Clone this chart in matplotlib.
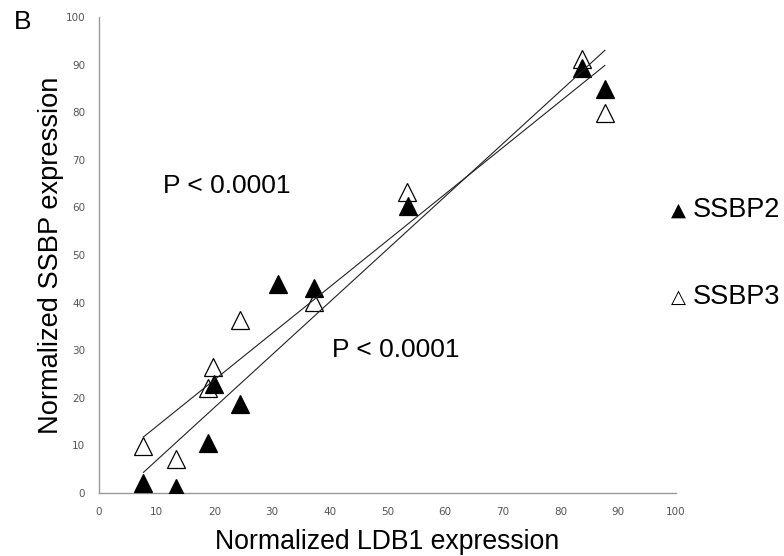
import numpy as np
import matplotlib
matplotlib.use("Agg")
import matplotlib.pyplot as plt

# Data
ssbp2_x = [7.7, 13.3, 18.9, 20.0, 24.5, 31.0, 37.3, 53.6, 83.7, 87.7]
ssbp2_y = [2.0, 1.0, 10.5, 23.0, 18.7, 44.0, 43.0, 60.2, 89.3, 84.9]
ssbp3_x = [7.7, 13.3, 18.9, 19.8, 24.4, 37.3, 53.4, 83.7, 87.7]
ssbp3_y = [9.9, 7.1, 22.0, 26.5, 36.3, 40.1, 63.3, 91.1, 79.8]
ticks = [0, 10, 20, 30, 40, 50, 60, 70, 80, 90, 100]

fig = plt.figure(figsize=(7.84, 5.56), dpi=100)
ax = fig.add_axes([0.1263, 0.1133, 0.7357, 0.8561])

sans = ["Liberation Sans", "DejaVu Sans"]

# trend lines (least squares)
for xs, ys in ((ssbp2_x, ssbp2_y), (ssbp3_x, ssbp3_y)):
    k, b = np.polyfit(xs, ys, 1)
    xx = np.array([min(xs), max(xs)])
    ax.plot(xx, k * xx + b, color="#222222", lw=0.8, zorder=4)

ax.plot(ssbp3_x, ssbp3_y, linestyle="none", marker="^", markersize=13,
        markerfacecolor="white", markeredgecolor="black", markeredgewidth=0.9, zorder=2)
ax.plot(ssbp2_x, ssbp2_y, linestyle="none", marker="^", markersize=13,
        markerfacecolor="black", markeredgecolor="black", markeredgewidth=0.9, zorder=3)

ax.set_xlim(0, 100)
ax.set_ylim(0, 100)
ax.set_xticks(ticks)
ax.set_yticks(ticks)
ax.tick_params(length=0, labelsize=7.5, labelcolor="#555555", pad=10)
for s in ("top", "right"):
    ax.spines[s].set_visible(False)
for s in ("left", "bottom"):
    ax.spines[s].set_color("#999999")
    ax.spines[s].set_linewidth(1.0)

ax.set_xlabel("Normalized LDB1 expression", fontsize=19.2, family=sans, labelpad=9)
ax.set_ylabel("Normalized SSBP expression", fontsize=19.6, family=sans, labelpad=1)

ax.text(11.1, 64.5, "P < 0.0001", fontsize=19, family=sans, va="center", ha="left")
ax.text(40.4, 30.0, "P < 0.0001", fontsize=19, family=sans, va="center", ha="left")

# legend-like labels on right
fig.text(671 / 784, 1 - 210 / 556, "▲", fontsize=14, family="DejaVu Sans", va="center", ha="left")
fig.text(693 / 784, 1 - 210 / 556, "SSBP2", fontsize=19.5, family=sans, va="center", ha="left")
fig.text(671 / 784, 1 - 297 / 556, "△", fontsize=14, family="DejaVu Sans", va="center", ha="left")
fig.text(693 / 784, 1 - 297 / 556, "SSBP3", fontsize=19.5, family=sans, va="center", ha="left")

fig.text(14 / 784, 1 - 22 / 556, "B", fontsize=19, family=sans, va="center", ha="left")

fig.savefig("out.png", dpi=100)
